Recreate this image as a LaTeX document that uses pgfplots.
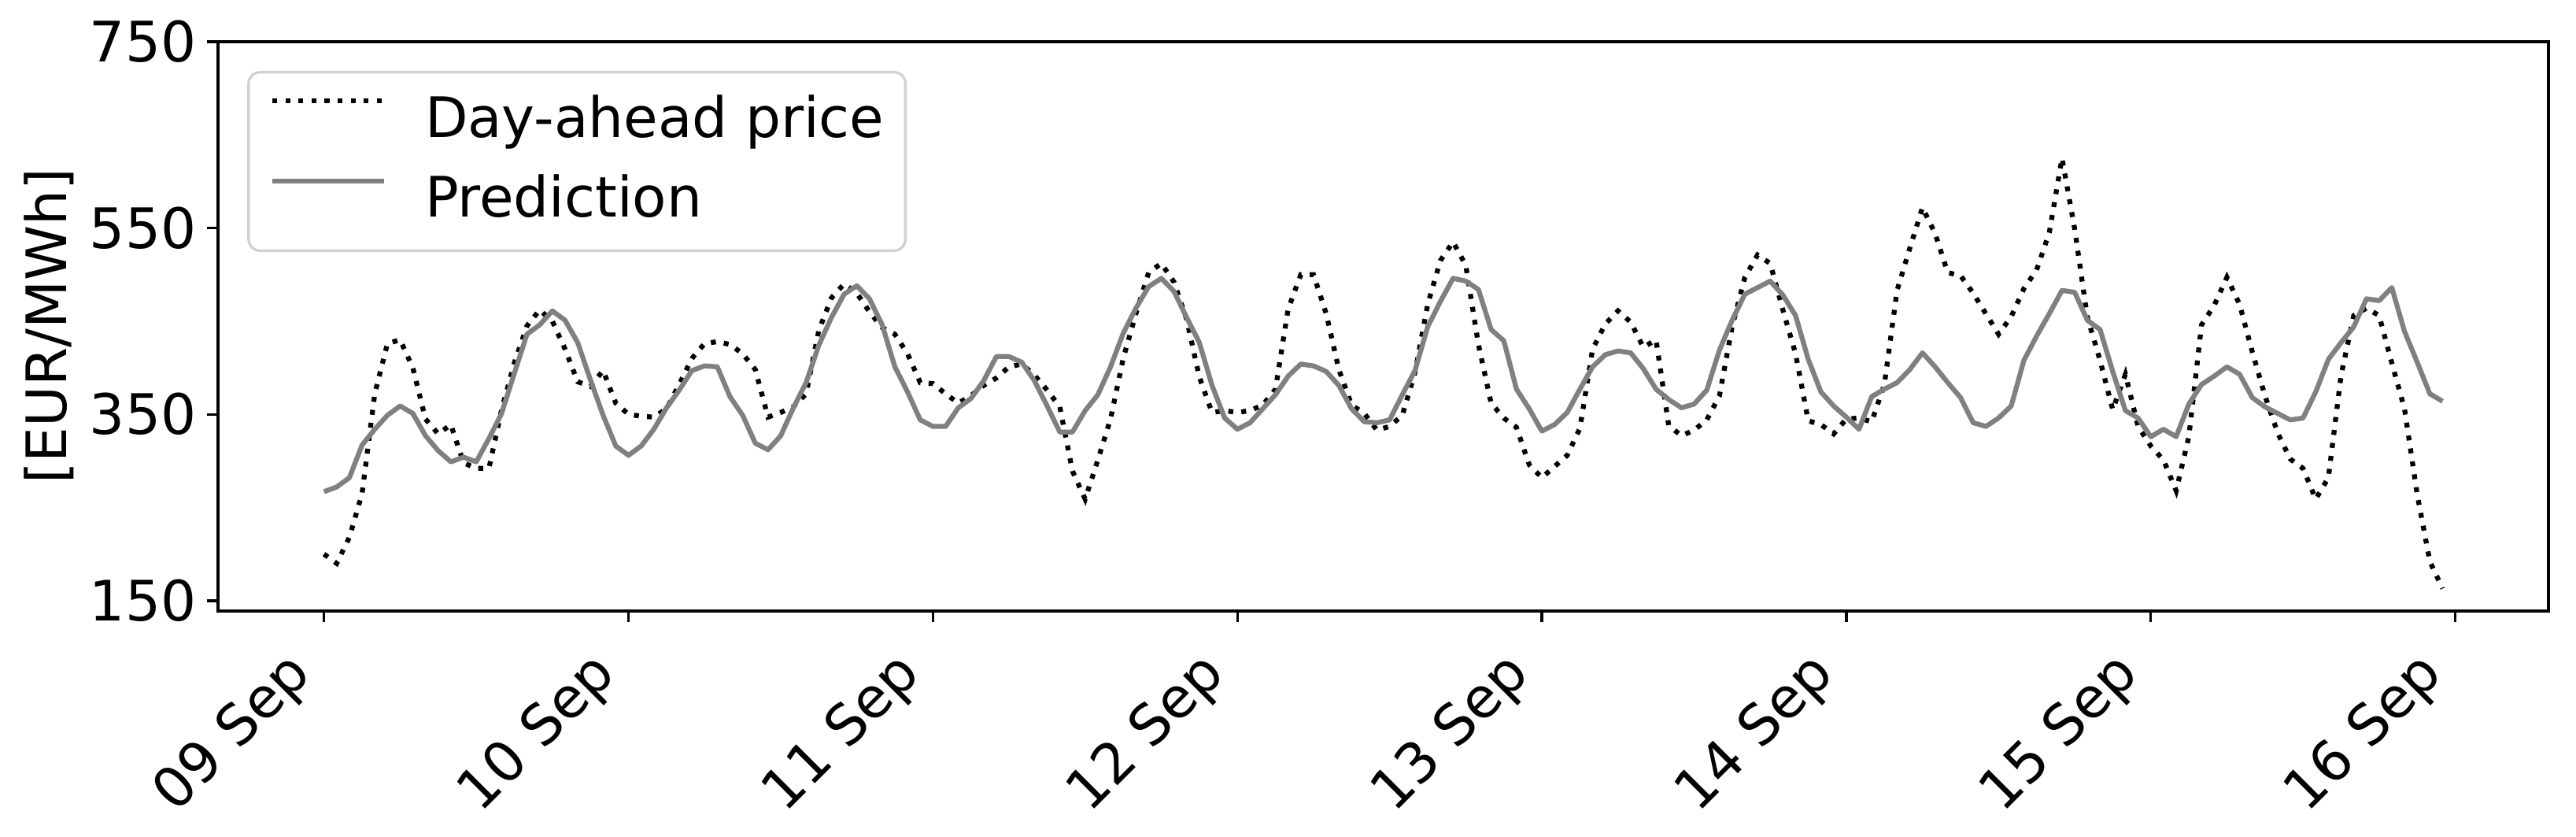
\documentclass[border=0pt]{standalone}
\usepackage{fontspec}
\setmainfont{DejaVu Sans}
\usepackage{pgfplots}
\usepackage{pgfplotstable}
\pgfplotsset{compat=1.18}

% hourly values, hour 0 = 09 Sep 00:00
\pgfplotstableread{
h price pred
0 200 267
1 190 272
2 218 282
3 265 317
4 372 334
5 426 349
6 430 359
7 400 351
8 345 327
9 329 311
10 339 299
11 298 304
12 292 299
13 292 324
14 355 351
15 405 394
16 445 436
17 462 446
18 450 461
19 420 451
20 385 427
21 380 387
22 397 349
23 362 316
24 350 306
25 348 316
26 347 334
27 356 357
28 382 376
29 410 397
30 426 402
31 428 401
32 425 369
33 415 349
34 398 319
35 347 312
36 352 327
37 358 357
38 372 384
39 440 424
40 475 454
41 490 479
42 480 488
43 460 474
44 443 446
45 436 401
46 415 374
47 384 344
48 383 337
49 372 337
50 362 357
51 370 367
52 381 386
53 389 412
54 401 412
55 404 406
56 392 386
57 376 359
58 358 331
59 289 331
60 259 354
61 301 371
62 345 401
63 410 437
64 458 464
65 502 487
66 512 496
67 492 482
68 452 454
69 390 427
70 352 381
71 354 346
72 352 334
73 354 341
74 360 356
75 377 371
76 463 391
77 500 404
78 500 402
79 458 396
80 398 381
81 360 356
82 351 342
83 333 341
84 337 344
85 349 371
86 395 397
87 468 444
88 515 471
89 535 496
90 510 493
91 425 484
92 362 441
93 346 429
94 336 377
95 296 356
96 282 332
97 294 339
98 306 352
99 335 377
100 420 401
101 447 414
102 461 418
103 449 416
104 422 399
105 430 377
106 338 366
107 327 357
108 333 361
109 344 376
110 370 419
111 444 451
112 497 479
113 521 486
114 512 493
115 462 478
116 415 456
117 343 409
118 339 374
119 329 359
120 345 347
121 346 334
122 342 369
123 382 377
124 483 384
125 528 398
126 572 416
127 544 401
128 502 384
129 499 368
130 480 341
131 458 337
132 436 346
133 455 359
134 485 408
135 505 434
136 545 458
137 625 483
138 549 481
139 454 451
140 408 441
141 355 396
142 393 354
143 337 346
144 316 326
145 301 334
146 268 326
147 326 361
148 446 382
149 467 391
150 497 401
151 468 393
152 417 368
153 370 358
154 330 351
155 302 344
156 292 346
157 259 374
158 282 409
159 392 427
160 456 444
161 464 474
162 456 472
163 405 486
164 356 439
165 264 406
166 192 372
167 163 364
}\prices

\newcommand{\fs}{\fontsize{17}{20}\selectfont}

\begin{document}
\begin{tikzpicture}
\begin{axis}[
    scale only axis,
    width=710.6pt,
    height=173.5pt,
    xmin=-8.35, xmax=175.35,
    ymin=139, ymax=750,
    xtick={0,24,...,168},
    xticklabels={09 Sep,10 Sep,11 Sep,12 Sep,13 Sep,14 Sep,15 Sep,16 Sep},
    ytick={150,350,550,750},
    tick align=outside,
    tick pos=left,
    major tick length=3.5pt,
    tick style={black, line width=0.8pt},
    axis line style={line width=0.8pt},
    /pgf/number format/assume math mode=true,
    tick label style={font=\fs},
    xticklabel style={rotate=45, anchor=base east, inner sep=0pt,
        xshift=-13.8pt, yshift=-9.3pt},
    yticklabel style={inner sep=0pt, xshift=-3pt},
    ylabel={[EUR/MWh]},
    ylabel style={font=\fs, at={(axis description cs:-0.0726,0.5)}, anchor=center},
    legend cell align=left,
    legend style={font=\fs, at={(0,1)}, anchor=north west,
        xshift=8.9pt, yshift=-8.9pt,
        draw=black!18, line width=0.8pt, rounded corners=3.5pt,
        fill=white, fill opacity=0.8, text opacity=1,
        inner xsep=6.5pt, inner ysep=2.8pt,
        row sep=0pt, column sep=11.8pt,
        nodes={inner sep=0pt, text height=17pt, text depth=7.4pt}},
    legend image code/.code={\draw[#1] (0pt,6.2pt) -- (34pt,6.2pt);},
]
\addplot[black, line width=1.5pt, line cap=butt, dash pattern=on 1.5pt off 2.48pt]
    table[x=h, y=price] {\prices};
\addlegendentry{Day-ahead price}
\addplot[color=gray, line width=1.5pt, line join=round]
    table[x=h, y=pred] {\prices};
\addlegendentry{Prediction}
\end{axis}
\pgfresetboundingbox
\path[use as bounding box] ([shift={(-66.5pt,-68.7pt)}]current axis.south west)
    rectangle ([shift={(8.4pt,12.7pt)}]current axis.north east);
\end{tikzpicture}
\end{document}
